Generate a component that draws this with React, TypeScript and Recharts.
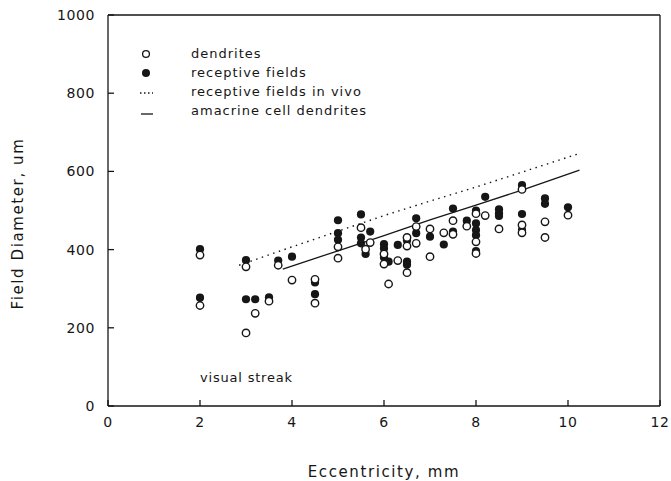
import React from 'react';
import { ScatterChart, Scatter, XAxis, YAxis, ReferenceDot } from 'recharts';

// eccentricity (mm) / field diameter (um)
const dendriteX = [2, 2, 3, 3, 3.2, 3.5, 3.7, 4, 4.5, 4.5, 5, 5, 5.5, 5.6, 5.7, 6, 6, 6.1, 6.3, 6.5, 6.5, 6.5, 6.7, 6.7, 7, 7, 7.3, 7.5, 7.5, 7.8, 8, 8, 8, 8.2, 8.5, 9, 9, 9, 9.5, 9.5, 10];
const dendriteY = [386, 257, 356, 187, 237, 268, 360, 322, 324, 263, 407, 378, 456, 401, 418, 389, 363, 312, 372, 431, 409, 341, 459, 416, 453, 382, 443, 474, 439, 460, 492, 420, 390, 487, 453, 554, 463, 443, 471, 431, 488];

const fieldX = [2, 2, 3, 3, 3.2, 3.5, 3.7, 4, 4.5, 4.5, 5, 5, 5, 5.5, 5.5, 5.5, 5.6, 5.7, 6, 6, 6, 6.1, 6.3, 6.5, 6.5, 6.5, 6.7, 6.7, 7, 7.3, 7.5, 7.5, 7.8, 8, 8, 8, 8, 8, 8.2, 8.5, 8.5, 8.5, 9, 9, 9, 9.5, 9.5, 10];
const fieldY = [401, 277, 373, 273, 273, 278, 372, 382, 316, 286, 475, 442, 425, 490, 431, 416, 389, 446, 414, 403, 380, 369, 412, 423, 369, 361, 480, 442, 433, 413, 505, 446, 474, 500, 467, 450, 437, 396, 535, 503, 493, 486, 565, 491, 450, 531, 517, 508];

const inVivoX = [2.85, 4, 5, 6, 7, 8, 9, 10.25];
const inVivoY = [360, 407, 447, 487, 524, 560, 598, 646];

const amacrineX = [3.8, 5, 6, 7, 8, 9, 10.25];
const amacrineY = [350, 397, 436, 476, 514, 552, 603];

const xTicks = [0, 2, 4, 6, 8, 10, 12];
const yTicks = [0, 200, 400, 600, 800, 1000];
const legendNames = ['dendrites', 'receptive fields', 'receptive fields in vivo', 'amacrine cell dendrites'];

const zip = (xs: number[], ys: number[]) => xs.map((x, i) => ({ x, y: ys[i] }));

const dendrites = zip(dendriteX, dendriteY);
const fields = zip(fieldX, fieldY);
const inVivo = zip(inVivoX, inVivoY);
const amacrine = zip(amacrineX, amacrineY);

const INK = '#161616';
const FONT = '"DejaVu Sans", sans-serif';

const OpenDot = (p: any) => <circle cx={p.cx} cy={p.cy} r={3.7} fill="#fff" stroke={INK} strokeWidth={1.4} />;
const FilledDot = (p: any) => <circle cx={p.cx} cy={p.cy} r={4.1} fill={INK} />;
const NoDot = () => <g />;

const legendIcon = (i: number) => {
  if (i === 0) return <circle cx={10} cy={9} r={3.4} fill="#fff" stroke={INK} strokeWidth={1.3} />;
  if (i === 1) return <circle cx={10} cy={9} r={4} fill={INK} />;
  if (i === 2) return <line x1={4} x2={17} y1={10} y2={10} stroke={INK} strokeWidth={1.4} strokeDasharray="1.5 2.5" />;
  return <line x1={5} x2={17} y1={12} y2={12} stroke={INK} strokeWidth={1.3} />;
};

// legend sits inside the plot, top left
const ChartLegend = () => (
  <div style={{ position: 'absolute', left: 136, top: 44, fontFamily: FONT, fontSize: 13, letterSpacing: 1, color: INK }}>
    {legendNames.map((name, i) => (
      <div key={name} style={{ display: 'flex', alignItems: 'center', height: 19 }}>
        <svg width={20} height={18} style={{ marginRight: 35 }}>{legendIcon(i)}</svg>
        <span>{name}</span>
      </div>
    ))}
  </div>
);

const xTitle = ({ viewBox }: any) => (
  <text x={viewBox.x + viewBox.width / 2} y={477} textAnchor="middle"
    fontFamily={FONT} fontSize={15} letterSpacing={1.6} fill={INK}>Eccentricity, mm</text>
);

const yTitle = ({ viewBox }: any) => {
  const cy = viewBox.y + viewBox.height / 2 + 13;
  return (
    <text x={18} y={cy} transform={`rotate(-90 18 ${cy})`} textAnchor="middle" dominantBaseline="central"
      fontFamily={FONT} fontSize={15} letterSpacing={1.6} fill={INK}>Field Diameter, um</text>
  );
};

const streakLabel = ({ viewBox }: any) => (
  <text x={viewBox.x} y={viewBox.y} dominantBaseline="central" fontFamily={FONT} fontSize={13}
    letterSpacing={0.8} fill={INK}>visual streak</text>
);

const tickStyle = { fontFamily: FONT, fontSize: 14, letterSpacing: 0.6, fill: INK };
const axisLine = { stroke: INK, strokeWidth: 1.3 };

export default function App() {
  return (
    <div style={{ position: 'absolute', left: 0, top: 0, width: 671, height: 481, background: '#fff' }}>
      <ScatterChart width={671} height={481} margin={{ top: 14, right: 10, bottom: 0, left: 0 }}>
        <XAxis type="number" dataKey="x" domain={[0, 12]} ticks={xTicks} height={75}
          tickSize={-6} tickMargin={17} tick={tickStyle} axisLine={axisLine} tickLine={axisLine}
          label={{ content: xTitle }} />
        <XAxis xAxisId="top" orientation="top" type="number" dataKey="x" domain={[0, 12]} ticks={xTicks}
          height={1} tickSize={-6} tick={false} axisLine={axisLine} tickLine={axisLine} />
        <YAxis type="number" dataKey="y" domain={[0, 1000]} ticks={yTicks} width={108}
          tickSize={-6} tickMargin={19} tick={tickStyle} axisLine={axisLine} tickLine={axisLine}
          label={{ content: yTitle }} />
        <YAxis yAxisId="right" orientation="right" type="number" dataKey="y" domain={[0, 1000]} ticks={yTicks}
          width={1} tickSize={-6} tick={false} axisLine={axisLine} tickLine={axisLine} />
        {/* hidden series so the top/right frame axes get drawn */}
        <Scatter xAxisId="top" yAxisId="right" data={amacrine} shape={NoDot} isAnimationActive={false} />
        <Scatter name="receptive fields in vivo" data={inVivo} shape={NoDot} isAnimationActive={false}
          line={{ stroke: INK, strokeWidth: 1.4, strokeDasharray: '1.5 4.5' }} />
        <Scatter name="amacrine cell dendrites" data={amacrine} shape={NoDot} isAnimationActive={false}
          line={{ stroke: INK, strokeWidth: 1.3 }} />
        <Scatter name="receptive fields" data={fields} shape={FilledDot} isAnimationActive={false} />
        <Scatter name="dendrites" data={dendrites} shape={OpenDot} isAnimationActive={false} />
        <ReferenceDot x={2} y={74} r={0} stroke="none" fill="none" label={{ content: streakLabel }} />
      </ScatterChart>
      <ChartLegend />
    </div>
  );
}
